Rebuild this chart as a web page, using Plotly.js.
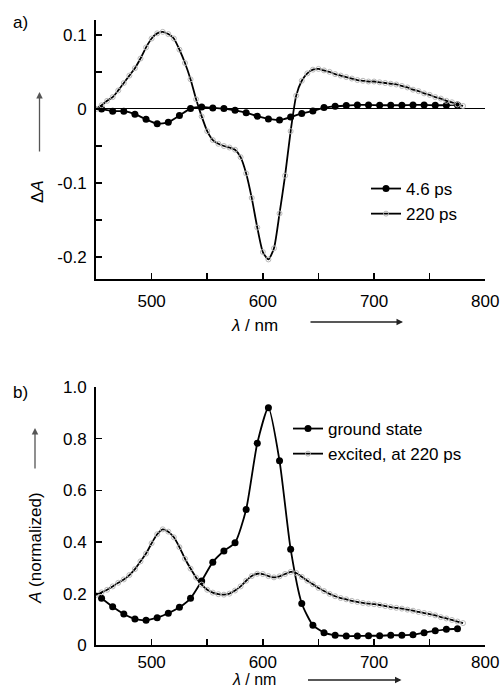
<!DOCTYPE html>
<html>
<head>
<meta charset="utf-8">
<script src="https://cdn.plot.ly/plotly-3.0.1.min.js"></script>
<style>html,body{margin:0;padding:0;background:#fff;}#chart{width:503px;height:689px;}</style>
</head>
<body>
<div id="chart"></div>
<script>
// ---- Panel a) transient absorption ----
const wlDots = [455,465,475,485,495,505,515,525,535,545,555,565,575,585,595,605,615,625,635,645,655,665,675,685,695,705,715,725,735,745,755,765,775];
const dA_4p6ps = [0,-0.003,-0.003,-0.007,-0.014,-0.020,-0.018,-0.009,0.0005,0.0027,0.0014,0.0005,-0.0018,-0.005,-0.0097,-0.0135,-0.0149,-0.011,-0.006,-0.0027,0.0018,0.0036,0.0045,0.0054,0.0054,0.005,0.005,0.005,0.0054,0.0054,0.005,0.005,0.0054];

const wlFine = [450,455,460,465,470,475,480,485,490,495,500,505,510,515,520,525,530,535,540,545,550,555,560,565,570,575,580,585,590,595,600,605,610,615,620,625,630,635,640,645,650,655,660,665,670,675,680,685,690,695,700,705,710,715,720,725,730,735,740,745,750,755,760,765,770,775,780];
const dA_220ps = [0,0.005,0.011,0.016,0.025,0.035,0.045,0.055,0.068,0.083,0.095,0.102,0.104,0.101,0.095,0.080,0.062,0.040,0.013,-0.010,-0.030,-0.042,-0.047,-0.050,-0.052,-0.055,-0.065,-0.087,-0.120,-0.160,-0.193,-0.203,-0.188,-0.141,-0.090,-0.030,0.018,0.038,0.048,0.053,0.054,0.052,0.050,0.047,0.045,0.043,0.041,0.039,0.038,0.037,0.037,0.036,0.035,0.034,0.033,0.031,0.029,0.026,0.024,0.021,0.019,0.016,0.014,0.011,0.009,0.006,0.004];

// ---- Panel b) normalized absorption ----
const A_ground = [0.182,0.149,0.121,0.102,0.097,0.107,0.124,0.147,0.182,0.249,0.322,0.365,0.397,0.526,0.782,0.920,0.714,0.372,0.162,0.078,0.049,0.039,0.036,0.036,0.037,0.037,0.039,0.039,0.041,0.049,0.056,0.062,0.064];
const A_excited = [0.195,0.205,0.215,0.228,0.242,0.255,0.272,0.295,0.325,0.355,0.395,0.430,0.449,0.440,0.418,0.380,0.335,0.297,0.262,0.235,0.215,0.204,0.198,0.196,0.200,0.212,0.228,0.250,0.268,0.277,0.276,0.268,0.263,0.267,0.276,0.284,0.280,0.265,0.250,0.236,0.222,0.210,0.199,0.190,0.183,0.178,0.172,0.168,0.164,0.161,0.159,0.156,0.152,0.148,0.145,0.142,0.138,0.134,0.129,0.125,0.121,0.116,0.109,0.104,0.098,0.092,0.086];

const namesA = ['4.6 ps','220 ps'];
const namesB = ['ground state','excited, at 220 ps'];
const xTicks = [500,600,700,800];
const xMinor = [550,650,750];
const yTicksA = [-0.2,-0.1,0,0.1];
const yTextA = ['-0.2','-0.1','0','0.1'];
const yMinorA = [-0.15,-0.05,0.05];
const yTicksB = [0,0.2,0.4,0.6,0.8,1.0];
const yTextB = ['0','0.2','0.4','0.6','0.8','1.0'];

const W = 503, H = 689;
const px = v => v / W;
const py = v => 1 - v / H;

const filledStyle = {
  mode: 'lines+markers',
  line: {color: 'black', width: 1.8, shape: 'spline', smoothing: 0.6},
  marker: {symbol: 'circle', size: 7, color: 'black'}
};
const openStyle = {
  mode: 'lines+markers',
  line: {color: 'black', width: 1.8, shape: 'spline', smoothing: 0.6},
  marker: {symbol: 'circle-open', size: 5, color: '#b8b8b8', line: {width: 1}}
};

const traces = [
  Object.assign({x: wlDots, y: dA_4p6ps, name: namesA[0], xaxis: 'x', yaxis: 'y', legend: 'legend'}, filledStyle),
  Object.assign({x: wlFine, y: dA_220ps, name: namesA[1], xaxis: 'x', yaxis: 'y', legend: 'legend'}, openStyle),
  Object.assign({x: wlDots, y: A_ground, name: namesB[0], xaxis: 'x2', yaxis: 'y2', legend: 'legend2'}, filledStyle),
  Object.assign({x: wlFine, y: A_excited, name: namesB[1], xaxis: 'x2', yaxis: 'y2', legend: 'legend2'}, openStyle)
];

const xDomain = [px(96), px(485.3)];
function xAxis(anchor, standoff) {
  return {
    domain: xDomain, anchor: anchor, range: [450, 800],
    showline: true, linewidth: 2, linecolor: 'black', mirror: false,
    ticks: 'inside', ticklen: 6, tickwidth: 1.5, tickcolor: 'black',
    tickvals: xTicks, ticktext: xTicks.map(String),
    minor: {tickvals: xMinor, ticks: 'inside', ticklen: 6, tickwidth: 1.5, tickcolor: 'black'},
    showgrid: false, zeroline: false, ticklabelstandoff: standoff,
    tickfont: {size: 17}
  };
}

const layout = {
  width: W, height: H,
  margin: {l: 0, r: 0, t: 0, b: 0},
  paper_bgcolor: 'white', plot_bgcolor: 'white',
  font: {family: 'Liberation Sans, Arial, Helvetica, sans-serif', size: 17, color: 'black'},
  showlegend: true,
  xaxis: xAxis('y', 6),
  xaxis2: xAxis('y2', 0),
  yaxis: {
    domain: [py(278.7), py(20)], anchor: 'x', range: [-0.229, 0.12],
    showline: true, linewidth: 2, linecolor: 'black',
    ticks: 'inside', ticklen: 6, tickwidth: 1.5, tickcolor: 'black',
    tickvals: yTicksA, ticktext: yTextA,
    minor: {tickvals: yMinorA, ticks: 'inside', ticklen: 6, tickwidth: 1.5, tickcolor: 'black'},
    showgrid: false, zeroline: true, zerolinecolor: 'black', zerolinewidth: 1,
    ticklabelstandoff: 4, tickfont: {size: 17}
  },
  yaxis2: {
    domain: [py(645.3), py(387)], anchor: 'x2', range: [0, 1.0],
    showline: true, linewidth: 2, linecolor: 'black',
    ticks: 'inside', ticklen: 6, tickwidth: 1.5, tickcolor: 'black',
    tickvals: yTicksB, ticktext: yTextB,
    showgrid: false, zeroline: false,
    ticklabelstandoff: 4, tickfont: {size: 17}
  },
  legend: {
    x: px(366), y: py(171), xanchor: 'left', yanchor: 'top',
    bgcolor: 'rgba(0,0,0,0)', borderwidth: 0, font: {size: 17},
    itemwidth: 30, tracegroupgap: 0
  },
  legend2: {
    x: px(288), y: py(411), xanchor: 'left', yanchor: 'top',
    bgcolor: 'rgba(0,0,0,0)', borderwidth: 0, font: {size: 17},
    itemwidth: 30, tracegroupgap: 0
  },
  annotations: [
    {text: 'a)', x: px(20), y: py(23), xref: 'paper', yref: 'paper', showarrow: false, xanchor: 'center', yanchor: 'middle', font: {size: 17}},
    {text: 'b)', x: px(20), y: py(392), xref: 'paper', yref: 'paper', showarrow: false, xanchor: 'center', yanchor: 'middle', font: {size: 17}},
    {text: 'Δ<i>A</i>', x: px(37), y: py(192), xref: 'paper', yref: 'paper', showarrow: false, textangle: -90, xanchor: 'center', yanchor: 'middle', font: {size: 17}},
    {text: '<i>A</i> (normalized)', x: px(35), y: py(548), xref: 'paper', yref: 'paper', showarrow: false, textangle: -90, xanchor: 'center', yanchor: 'middle', font: {size: 17}},
    {text: '<i>λ</i> / nm', x: px(254), y: py(325), xref: 'paper', yref: 'paper', showarrow: false, xanchor: 'center', yanchor: 'middle', font: {size: 17}},
    {text: '<i>λ</i> / nm', x: px(254), y: 0, xref: 'paper', yref: 'paper', showarrow: false, xanchor: 'center', yanchor: 'bottom', borderpad: 0, font: {size: 16}},
    // arrows
    {text: '', x: px(39.5), y: py(92), xref: 'paper', yref: 'paper', showarrow: true, ax: 0, ay: 61, arrowhead: 2, arrowsize: 1, arrowwidth: 1.3, arrowcolor: '#555'},
    {text: '', x: px(35), y: py(428), xref: 'paper', yref: 'paper', showarrow: true, ax: 0, ay: 42, arrowhead: 2, arrowsize: 1, arrowwidth: 1.3, arrowcolor: '#555'},
    {text: '', x: px(403), y: py(322), xref: 'paper', yref: 'paper', showarrow: true, ax: -94, ay: 0, arrowhead: 2, arrowsize: 1, arrowwidth: 1.3, arrowcolor: '#222'},
    {text: '', x: px(401.5), y: py(680), xref: 'paper', yref: 'paper', showarrow: true, ax: -95, ay: 0, arrowhead: 2, arrowsize: 1, arrowwidth: 1.3, arrowcolor: '#222'}
  ]
};

Plotly.newPlot('chart', traces, layout, {displayModeBar: false, staticPlot: true});
</script>
</body>
</html>
